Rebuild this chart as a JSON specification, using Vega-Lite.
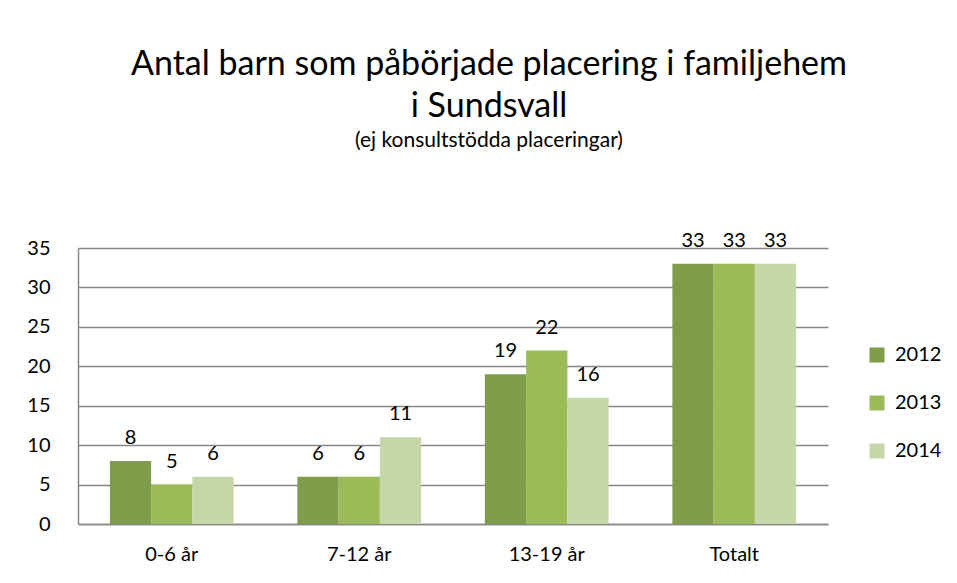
{
  "$schema": "https://vega.github.io/schema/vega-lite/v6.json",
  "autosize": "none",
  "width": 750,
  "height": 276,
  "padding": {"left": 78, "top": 248, "right": 129, "bottom": 59},
  "background": "white",
  "title": {
    "text": ["Antal barn som påbörjade placering i familjehem", "i Sundsvall"],
    "subtitle": "(ej konsultstödda placeringar)",
    "anchor": "middle",
    "dx": 36,
    "fontSize": 34,
    "fontWeight": "normal",
    "font": "Lato",
    "color": "black",
    "lineHeight": 42,
    "subtitleFontSize": 21,
    "subtitleFont": "Lato",
    "subtitleColor": "black",
    "subtitlePadding": 6,
    "offset": 80
  },
  "data": {
    "values": [
      {"grupp": "0-6 år", "år": "2012", "antal": 8},
      {"grupp": "0-6 år", "år": "2013", "antal": 5},
      {"grupp": "0-6 år", "år": "2014", "antal": 6},
      {"grupp": "7-12 år", "år": "2012", "antal": 6},
      {"grupp": "7-12 år", "år": "2013", "antal": 6},
      {"grupp": "7-12 år", "år": "2014", "antal": 11},
      {"grupp": "13-19 år", "år": "2012", "antal": 19},
      {"grupp": "13-19 år", "år": "2013", "antal": 22},
      {"grupp": "13-19 år", "år": "2014", "antal": 16},
      {"grupp": "Totalt", "år": "2012", "antal": 33},
      {"grupp": "Totalt", "år": "2013", "antal": 33},
      {"grupp": "Totalt", "år": "2014", "antal": 33}
    ]
  },
  "encoding": {
    "x": {
      "field": "grupp",
      "type": "nominal",
      "sort": ["0-6 år", "7-12 år", "13-19 år", "Totalt"],
      "scale": {"paddingInner": 0.34, "paddingOuter": 0.17},
      "axis": {
        "title": null,
        "labelAngle": 0,
        "ticks": false,
        "labelPadding": 20,
        "labelFontSize": 20,
        "labelFont": "Lato",
        "labelColor": "black",
        "domainColor": "#868686",
        "domainWidth": 1.5
      }
    },
    "xOffset": {
      "field": "år",
      "type": "nominal",
      "scale": {"paddingInner": 0, "paddingOuter": 0}
    },
    "y": {
      "field": "antal",
      "type": "quantitative",
      "scale": {"domain": [0, 35]},
      "axis": {
        "title": null,
        "values": [0, 5, 10, 15, 20, 25, 30, 35],
        "ticks": false,
        "labelPadding": 28,
        "labelFontSize": 20,
        "labelFont": "Lato",
        "labelColor": "black",
        "gridColor": "#868686",
        "gridWidth": 1.5,
        "domainColor": "#868686",
        "domainWidth": 1.5
      }
    }
  },
  "layer": [
    {
      "mark": {"type": "bar"},
      "encoding": {
        "color": {
          "field": "år",
          "type": "nominal",
          "scale": {"domain": ["2012", "2013", "2014"], "range": ["#7F9C4B", "#9BBB59", "#C5D6A9"]},
          "legend": {
            "title": null,
            "orient": "none",
            "legendX": 789,
            "legendY": 97,
            "symbolType": "square",
            "symbolSize": 225,
            "symbolStrokeWidth": 0,
            "symbolOpacity": 1,
            "labelFontSize": 20,
            "labelFont": "Lato",
            "labelColor": "black",
            "labelOffset": 8,
            "rowPadding": 28
          }
        }
      }
    },
    {
      "mark": {"type": "text", "baseline": "alphabetic", "dy": -17, "fontSize": 20, "font": "Lato", "color": "black"},
      "encoding": {"text": {"field": "antal", "type": "quantitative"}}
    }
  ],
  "config": {"view": {"stroke": null}}
}
